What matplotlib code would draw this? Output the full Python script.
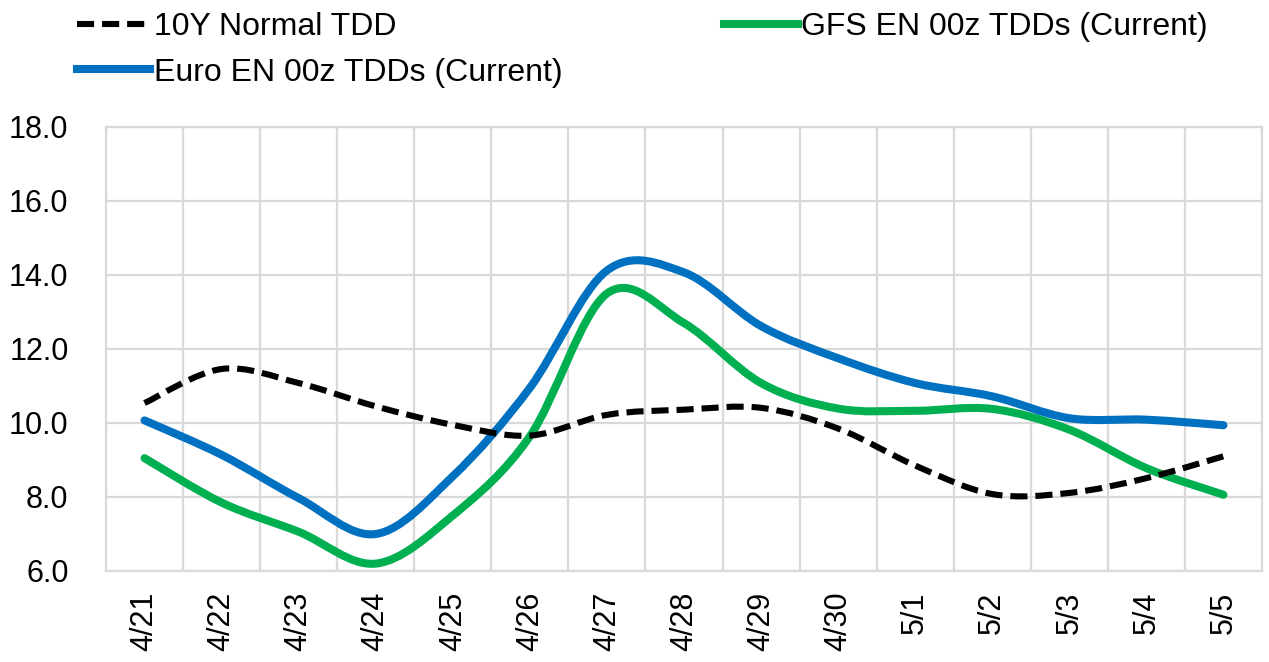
import matplotlib
matplotlib.use("Agg")
import matplotlib.pyplot as plt
from matplotlib.path import Path
from matplotlib.patches import PathPatch
from matplotlib.lines import Line2D
import numpy as np

plt.rcParams['font.family'] = ['Liberation Sans', 'DejaVu Sans']

categories = ["4/21", "4/22", "4/23", "4/24", "4/25", "4/26", "4/27", "4/28",
              "4/29", "4/30", "5/1", "5/2", "5/3", "5/4", "5/5"]
normal_10y = [10.54, 11.46, 11.08, 10.45, 9.95, 9.66, 10.22, 10.36,
              10.41, 9.85, 8.85, 8.08, 8.11, 8.51, 9.10]
euro_en = [10.07, 9.14, 7.97, 7.00, 8.56, 10.95, 14.12, 14.07,
           12.62, 11.75, 11.08, 10.72, 10.13, 10.09, 9.94]
gfs_en = [9.05, 7.85, 7.06, 6.20, 7.50, 9.64, 13.50, 12.70,
          11.08, 10.39, 10.33, 10.38, 9.82, 8.78, 8.06]

series_labels = ["10Y Normal TDD", "Euro EN 00z TDDs (Current)", "GFS EN 00z TDDs (Current)"]
yticks = [6.0, 8.0, 10.0, 12.0, 14.0, 16.0, 18.0]


def smooth_path(xs, ys):
    pts = np.column_stack([xs, ys]).astype(float)
    n = len(pts)
    verts = [pts[0]]
    codes = [Path.MOVETO]
    for i in range(n - 1):
        p_prev = pts[i - 1] if i > 0 else pts[i]
        p0 = pts[i]
        p1 = pts[i + 1]
        p_next = pts[i + 2] if i + 2 < n else pts[i + 1]
        c1 = p0 + (p1 - p_prev) / 6.0
        c2 = p1 - (p_next - p0) / 6.0
        verts += [c1, c2, p1]
        codes += [Path.CURVE4] * 3
    return Path(verts, codes)


fig = plt.figure(figsize=(12.69, 6.62), dpi=100)
ax = fig.add_axes([106 / 1269, 1 - 571 / 662, (1262 - 106) / 1269, (571 - 127) / 662])

x = np.arange(len(categories))
grid_color = "#D9D9D9"
fs = 22
legend_fs = 23

styles = [
    dict(color="black", lw=4.4, ls=(0, (2.8, 1.3))),
    dict(color="#0070C0", lw=5.8, ls="-"),
    dict(color="#00B050", lw=5.8, ls="-"),
]
data = [normal_10y, euro_en, gfs_en]
# draw order: green, blue, dashed on top
for idx in [2, 1, 0]:
    st = styles[idx]
    patch = PathPatch(smooth_path(x, data[idx]), facecolor="none", edgecolor=st["color"],
                      lw=st["lw"], ls=st["ls"], capstyle="round" if st["ls"] == "-" else "butt",
                      joinstyle="round", zorder=3 + (2 - idx))
    ax.add_patch(patch)

ax.set_xlim(-0.5, len(categories) - 0.5)
ax.set_ylim(6, 18)
ax.set_yticks(yticks)
ax.set_yticklabels([f"{v:.1f}" for v in yticks])
ax.set_xticks(x)
ax.set_xticklabels(categories, rotation=90)
ax.set_xticks(np.arange(-0.5, len(categories), 1.0), minor=True)
ax.tick_params(axis="both", which="both", length=0, labelsize=fs)
ax.tick_params(axis="y", pad=27)
ax.tick_params(axis="x", pad=15)
ax.grid(True, which="minor", axis="x", color=grid_color, lw=1.6, zorder=0)
ax.grid(True, which="major", axis="y", color=grid_color, lw=1.6, zorder=0)
ax.grid(False, which="major", axis="x")
for sp in ax.spines.values():
    sp.set_color(grid_color)
    sp.set_linewidth(1.6)
ax.set_axisbelow(True)

handles = [Line2D([], [], color=s["color"], lw=s["lw"], ls=s["ls"]) for s in styles]
fig.legend(handles, series_labels, ncol=2, loc="upper left",
           bbox_to_anchor=(77 / 1269, 1 - 12 / 662), frameon=False, fontsize=legend_fs,
           handlelength=2.3, handletextpad=0.1, columnspacing=5.07,
           labelspacing=0.49, borderpad=0.0, borderaxespad=0.0)

fig.savefig("out.png", dpi=100)
